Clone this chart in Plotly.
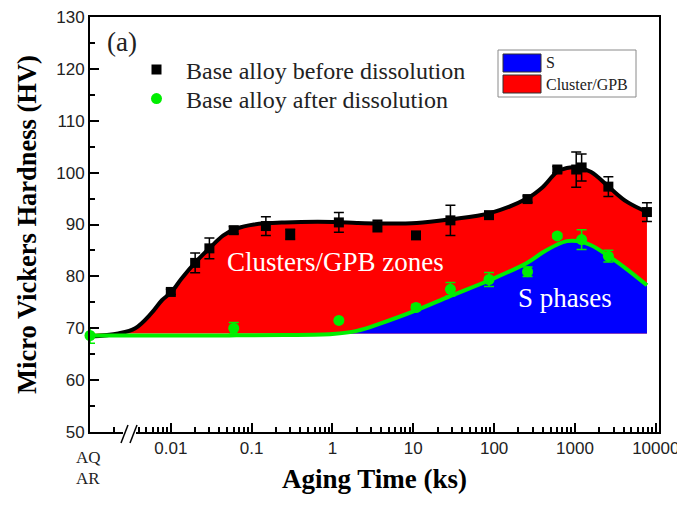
import plotly.graph_objects as go

# ---------------- data ----------------
# aging time in ks; 0.001 stands for the AQ/AR (as-quenched) state
t_before = [0.01, 0.02, 0.03, 0.06, 0.15, 0.3, 1.2, 3.6, 10.8, 28.8, 86.4,
            259.2, 604.8, 1036.8, 1209.6, 2592, 7776]
hv_before = [77.0, 82.6, 85.4, 88.9, 89.7, 88.1, 90.4, 89.7, 87.9, 90.8, 91.8,
             94.9, 100.6, 100.6, 101.0, 97.3, 92.4]
err_before = [0.5, 1.9, 2.0, 0.7, 1.8, 1.0, 1.9, 1.1, 0.4, 2.9, 0.5,
              0.6, 0.6, 3.4, 2.6, 1.9, 1.8]

t_after = [0.001, 0.06, 1.2, 10.8, 28.8, 86.4, 259.2, 604.8, 1209.6, 2592]
hv_after = [68.6, 70.0, 71.5, 74.0, 77.5, 79.4, 80.9, 87.8, 87.1, 83.9]
err_after = [1.5, 1.1, 0, 0.6, 1.3, 1.35, 0.9, 0.4, 1.9, 1.15]

# fitted (guide) curves
fit_t = [0.001, 0.00224, 0.00363, 0.00575, 0.00776, 0.0102, 0.0136, 0.0204, 0.0309,
         0.0447, 0.0646, 0.107, 0.257, 1.0, 2.0, 3.88, 11.0, 28.5, 89.1, 254, 398,
         597, 794, 1072, 1585, 2729, 4365, 7776]
fit_before = [68.4, 69.0, 70.0, 72.9, 75.4, 77.0, 79.6, 82.8, 85.6, 87.9, 89.2, 90.0,
              90.4, 90.5, 90.3, 90.2, 90.3, 91.0, 92.2, 95.0, 97.2, 100.1, 100.9,
              101.0, 100.1, 97.0, 94.4, 92.4]
fit_after = [68.6, 68.6, 68.6, 68.6, 68.6, 68.6, 68.6, 68.6, 68.6, 68.6, 68.65, 68.65,
             68.7, 68.9, 69.5, 70.9, 73.5, 76.2, 79.3, 82.6, 84.6, 86.1, 86.8, 86.8,
             86.0, 83.7, 81.4, 78.3]
base_hv = 69.0  # hardness of the solid solution (bottom of the shaded regions)

tick_vals = [0.01, 0.1, 1, 10, 100, 1000, 10000]
tick_text = ["0.01", "0.1", "1", "10", "100", "1000", "10000"]
minor_vals = [0.002] + [m * 10.0 ** e for e in range(-3, 4) for m in range(2, 10)
                        if 0.004 <= m * 10.0 ** e < 10000]

RED = "#ff0000"
BLUE = "#0000ff"
GREEN = "#00ee00"
SERIF = "Liberation Serif, Times New Roman, serif"
SANS = "Liberation Sans, Arial, sans-serif"

fig = go.Figure()

base = [base_hv] * len(fit_t)
red_top = [max(v, base_hv) for v in fit_before]
blue_top = [max(v, base_hv) for v in fit_after]

# red region: clusters / GPB zones
fig.add_trace(go.Scatter(x=fit_t, y=base, mode="lines", line=dict(width=0),
                         showlegend=False, hoverinfo="skip"))
fig.add_trace(go.Scatter(x=fit_t, y=red_top, mode="lines", fill="tonexty",
                         fillcolor=RED, line=dict(width=0, shape="spline"),
                         showlegend=False, hoverinfo="skip"))
# blue region: S phases
fig.add_trace(go.Scatter(x=fit_t, y=base, mode="lines", line=dict(width=0),
                         showlegend=False, hoverinfo="skip"))
fig.add_trace(go.Scatter(x=fit_t, y=blue_top, mode="lines", fill="tonexty",
                         fillcolor=BLUE, line=dict(width=0, shape="spline"),
                         showlegend=False, hoverinfo="skip"))
# guide curves
fig.add_trace(go.Scatter(x=fit_t, y=fit_before, mode="lines",
                         line=dict(color="black", width=4, shape="spline"),
                         showlegend=False, hoverinfo="skip"))
fig.add_trace(go.Scatter(x=fit_t, y=fit_after, mode="lines",
                         line=dict(color=GREEN, width=4, shape="spline"),
                         showlegend=False, hoverinfo="skip"))
# measured points
fig.add_trace(go.Scatter(x=t_before, y=hv_before, mode="markers",
                         name="Base alloy before dissolution", legend="legend",
                         marker=dict(symbol="square", size=10, color="black"),
                         error_y=dict(type="data", array=err_before, color="black",
                                      thickness=1.5, width=5),
                         cliponaxis=False))
fig.add_trace(go.Scatter(x=t_after, y=hv_after, mode="markers",
                         name="Base alloy after dissolution", legend="legend2",
                         marker=dict(symbol="circle", size=11, color=GREEN),
                         error_y=dict(type="data", array=err_after, color=GREEN,
                                      thickness=1.5, width=5),
                         cliponaxis=False))

# The page body has an 8 px margin, so the figure is made smaller and
# all screen positions below are measured in window pixels.
OFF = 8
W, H = 685 - OFF, 509 - 2 * OFF
X0, X1, Y0, Y1 = 90, 659, 17, 432        # plot area in window pixels
L, R, T = X0 - OFF, 685 - X1, Y0 - OFF
B = H - T - (Y1 - Y0)
pw, ph = X1 - X0, Y1 - Y0


def px(xp):
    return (xp - X0) / pw


def py(yp):
    return (Y1 - yp) / ph


shapes = []
# axis break "//"
shapes.append(dict(type="rect", xref="paper", yref="paper", x0=px(123), x1=px(136),
                   y0=py(435), y1=py(428), fillcolor="white", line=dict(width=0),
                   layer="above"))
for x0 in (121, 130):
    shapes.append(dict(type="line", xref="paper", yref="paper", x0=px(x0), y0=py(443),
                       x1=px(x0 + 7), y1=py(425), line=dict(color="black", width=1.5),
                       layer="above"))
# second legend (phase colours)
shapes.append(dict(type="rect", xref="paper", yref="paper", x0=px(498), x1=px(636),
                   y0=py(97), y1=py(50), fillcolor="white",
                   line=dict(color="#8a8a8a", width=1), layer="above"))
shapes.append(dict(type="rect", xref="paper", yref="paper", x0=px(503), x1=px(541),
                   y0=py(72), y1=py(54), fillcolor=BLUE,
                   line=dict(color="#333333", width=1), layer="above"))
shapes.append(dict(type="rect", xref="paper", yref="paper", x0=px(503), x1=px(541),
                   y0=py(93), y1=py(75), fillcolor=RED,
                   line=dict(color="#333333", width=1), layer="above"))

annotations = [
    dict(text="AQ", xref="paper", yref="paper", x=px(88), y=py(457),
         showarrow=False, font=dict(family=SERIF, size=17, color="#222"),
         xanchor="center", yanchor="middle"),
    dict(text="AR", xref="paper", yref="paper", x=px(88), y=py(478),
         showarrow=False, font=dict(family=SERIF, size=17, color="#222"),
         xanchor="center", yanchor="middle"),
    dict(text="(a)", xref="paper", yref="paper", x=px(122), y=py(42),
         showarrow=False, font=dict(family=SERIF, size=27, color="#222"),
         xanchor="center", yanchor="middle"),
    dict(text="Clusters/GPB zones", xref="paper", yref="paper", x=px(335), y=py(262),
         showarrow=False, font=dict(family=SERIF, size=27, color="white"),
         xanchor="center", yanchor="middle"),
    dict(text="S phases", xref="paper", yref="paper", x=px(565), y=py(298),
         showarrow=False, font=dict(family=SERIF, size=27, color="white"),
         xanchor="center", yanchor="middle"),
    dict(text="S", xref="paper", yref="paper", x=px(544), y=py(63),
         showarrow=False, font=dict(family=SERIF, size=16, color="#222"),
         xanchor="left", yanchor="middle"),
    dict(text="Cluster/GPB", xref="paper", yref="paper", x=px(544), y=py(84),
         showarrow=False, font=dict(family=SERIF, size=16, color="#222"),
         xanchor="left", yanchor="middle"),
]

legend_style = dict(xanchor="left", yanchor="middle", bgcolor="rgba(0,0,0,0)",
                    borderwidth=0, itemwidth=49,
                    font=dict(family=SERIF, size=24, color="#222"))

fig.update_layout(
    width=W, height=H,
    margin=dict(l=L, r=R, t=T, b=B, autoexpand=False),
    paper_bgcolor="white", plot_bgcolor="white",
    shapes=shapes, annotations=annotations,
    showlegend=True,
    legend=dict(x=px(127), y=py(70), **legend_style),
    legend2=dict(x=px(127), y=py(99), **legend_style),
    xaxis=dict(type="log", range=[-3, 4.04], tickmode="array", tickvals=tick_vals,
               ticktext=tick_text, ticks="inside", ticklen=9, tickwidth=2,
               tickcolor="black", showline=True, linewidth=2, linecolor="black",
               mirror=True, showgrid=False, zeroline=False, ticklabeloverflow="allow",
               tickfont=dict(family=SANS, size=17, color="#222"),
               minor=dict(tickmode="array", tickvals=minor_vals, ticks="inside",
                          ticklen=5, tickwidth=1.5, tickcolor="black", showgrid=False),
               title=dict(text="Aging Time (ks)", standoff=12,
                          font=dict(family=SERIF, size=27, color="black",
                                    weight="bold"))),
    yaxis=dict(range=[50, 130], tickmode="linear", tick0=50, dtick=10,
               ticks="inside", ticklen=9, tickwidth=2, tickcolor="black",
               showline=True, linewidth=2, linecolor="black", mirror=True,
               showgrid=False, zeroline=False, ticklabeloverflow="allow",
               tickfont=dict(family=SANS, size=17, color="#222"),
               minor=dict(dtick=5, ticks="inside", ticklen=5, tickwidth=1.5,
                          tickcolor="black", showgrid=False),
               title=dict(text="Micro Vickers Hardness (HV)", standoff=12,
                          font=dict(family=SERIF, size=26.5, color="black",
                                    weight="bold"))),
)

fig.write_html("out.html")
